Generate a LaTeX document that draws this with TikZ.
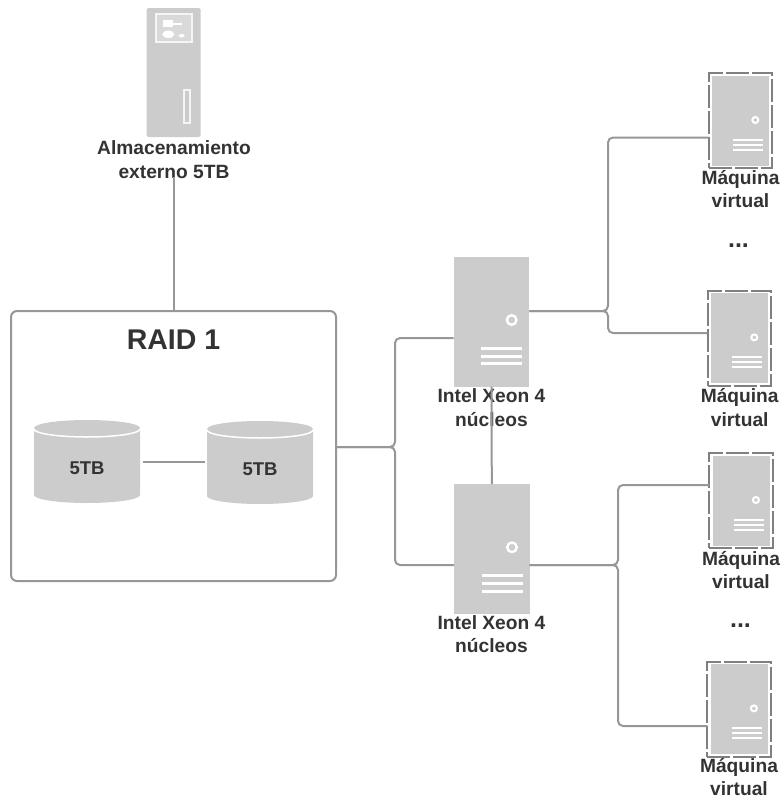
\documentclass[tikz,border=0pt]{standalone}
\usepackage{fontspec}
\setmainfont{Liberation Sans}
\definecolor{boxgray}{HTML}{CCCCCC}
\definecolor{linegray}{HTML}{979797}
\definecolor{framegray}{HTML}{808080}
\definecolor{txt}{HTML}{333333}
\tikzset{
  x=1pt,y=-1pt,
  conn/.style={draw=linegray,line width=2pt,rounded corners=5pt},
  srv/.style={fill=boxgray,draw=none,inner sep=0pt,outer sep=0pt,anchor=north west},
  lbl/.style={text=txt,font=\bfseries\fontsize{19.2}{23.5}\selectfont,align=center,inner sep=0pt},
  detail/.style={draw=white,line width=3pt},
  vmd/.style={draw=white,line width=2pt},
  vmframe/.style={draw=framegray,line width=2pt,dash pattern=on 23pt off 3pt,inner sep=0pt,outer sep=0pt,anchor=north west,minimum width=63.5pt,minimum height=95pt},
  disk/.style={fill=boxgray,draw=none},
}
\newcommand{\serverbox}[3]{% name, x, y
  \node[srv,minimum width=75.6pt,minimum height=130pt] (#1) at (#2,#3) {};
  \draw[draw=white,line width=2.4pt,fill=boxgray] (#2+58,#3+63.3) circle (4.8pt);
  \draw[detail] (#2+27.5,#3+91.6) -- (#2+68.5,#3+91.6);
  \draw[detail] (#2+27.5,#3+99.3) -- (#2+68.5,#3+99.3);
  \draw[detail] (#2+27.5,#3+107) -- (#2+68.5,#3+107);
}
\newcommand{\vmbox}[3]{% name, x, y of dashed frame
  \fill[boxgray] (#2+3.6,#3+2.7) rectangle (#2+60.3,#3+92.7);
  \node[vmframe] (#1) at (#2,#3) {};
  \draw[vmd,fill=boxgray] (#2+46.6,#3+46.7) circle (3pt);
  \draw[vmd] (#2+24.6,#3+66.7) -- (#2+54.6,#3+66.7);
  \draw[vmd] (#2+24.6,#3+71.7) -- (#2+54.6,#3+71.7);
  \draw[vmd] (#2+24.6,#3+76.7) -- (#2+54.6,#3+76.7);
}
\newcommand{\cyl}[3]{% name, x left, y top
  \node[inner sep=0pt,minimum width=106pt,minimum height=83pt,anchor=north west] (#1) at (#2,#3) {};
  \fill[boxgray] (#2,#3+10) -- (#2,#3+75) arc[start angle=180,end angle=360,x radius=53pt,y radius=8pt] -- (#2+106,#3+10) arc[start angle=0,end angle=180,x radius=53pt,y radius=8pt] -- cycle;
  \fill[boxgray] (#2+53,#3+8) ellipse[x radius=53pt,y radius=8pt];
  \draw[white,line width=1.5pt] (#2,#3+9) arc[start angle=180,end angle=360,x radius=53pt,y radius=8pt];
}
\begin{document}
\begin{tikzpicture}
\useasboundingbox (0,0) rectangle (782,798);
% external storage
\fill[boxgray,rounded corners=1.5pt] (146.7,8) rectangle (200.7,137);
\node[inner sep=0pt,minimum width=54pt,minimum height=129pt,anchor=north west] (ext) at (146.7,8) {};
\draw[white!80!boxgray,line width=1.7pt,fill=white!25!boxgray] (156.2,14.2) rectangle (191.8,41.8);
\fill[white] (162.7,20) rectangle (172.7,26.7);
\fill[white] (172.7,22.7) rectangle (181.7,25.3);
\fill[white] (168.3,34.3) ellipse[x radius=6pt,y radius=3.7pt];
\fill[white] (181.7,35.7) ellipse[x radius=3pt,y radius=1.7pt];
\draw[white!80!boxgray,line width=1.7pt] (184.2,90.2) rectangle (189.8,123.2);
\node[lbl] (extl) at (174,159.5) {Almacenamiento\\externo 5TB};
% raid box
\node[draw=linegray,line width=2pt,rounded corners=6pt,inner sep=0pt,outer sep=0pt,anchor=north west,minimum width=325pt,minimum height=270pt] (raid) at (11,311) {};
\node[text=txt,font=\bfseries\fontsize{28.5}{30}\selectfont,inner sep=0pt] (raidl) at (173.5,340) {RAID 1};
\cyl{d1}{34}{420}
\cyl{d2}{207}{421}
\node[lbl,font=\bfseries\fontsize{18.5}{20}\selectfont] (d1l) at (87,468) {5TB};
\node[lbl,font=\bfseries\fontsize{18.5}{20}\selectfont] (d2l) at (260,469) {5TB};
% servers
\serverbox{s1}{453.7}{256.7}
\serverbox{s2}{454}{484}
\node[lbl] (s1l) at (491.5,407.5) {Intel Xeon 4\\núcleos};
\node[lbl] (s2l) at (491.5,634) {Intel Xeon 4\\núcleos};
% vms
\vmbox{v1}{708.7}{73.3}
\vmbox{v2}{707.7}{290.7}
\vmbox{v3}{709.3}{453.3}
\vmbox{v4}{707.3}{661.7}
\node[lbl] (v1l) at (740.5,189) {Máquina\\virtual};
\node[lbl] (v2l) at (739.7,407.5) {Máquina\\virtual};
\node[lbl] (v3l) at (741,570) {Máquina\\virtual};
\node[lbl] (v4l) at (739,777) {Máquina\\virtual};
\node[text=txt,font=\bfseries\fontsize{25}{26}\selectfont,inner sep=0pt,anchor=base] (dots1) at (738.5,247) {...};
\node[text=txt,font=\bfseries\fontsize{25}{26}\selectfont,inner sep=0pt,anchor=base] (dots2) at (740.5,627) {...};
% connectors
\coordinate (extb) at (173.7,177);
\coordinate (raidt) at (173.7,311);
\draw[conn] (extb) -- (raidt);
\draw[conn] (d1.east |- 0,462) ++(3,0) -- (205,462);
\draw[conn] (s1.south) -- (s2.north);
\draw[conn] (raid.east |- 0,447) -- (395,447) -- (395,338) -- (s1.west |- 0,338);
\draw[conn] (raid.east |- 0,447) -- (395,447) -- (395,565) -- (s2.west |- 0,565);
\draw[conn] (s1.east |- 0,311) -- (608,311) -- (608,137.5) -- (v1.west |- 0,137.5);
\draw[conn] (s1.east |- 0,311) -- (608,311) -- (608,333) -- (v2.west |- 0,333);
\draw[conn] (s2.east |- 0,565) -- (618,565) -- (618,485) -- (v3.west |- 0,485);
\draw[conn] (s2.east |- 0,565) -- (618,565) -- (618,726) -- (v4.west |- 0,726);
\end{tikzpicture}
\end{document}
